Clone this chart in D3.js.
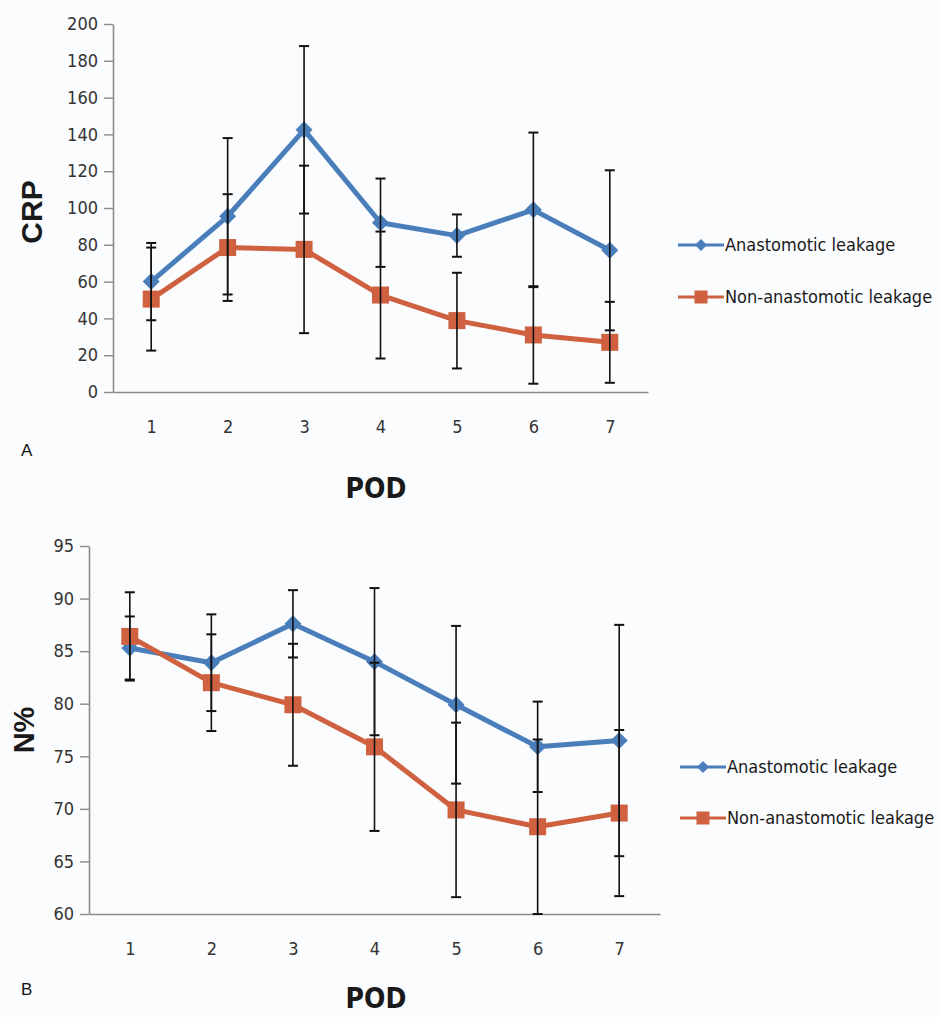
<!DOCTYPE html>
<html>
<head>
<meta charset="utf-8">
<script src="https://cdn.jsdelivr.net/npm/d3@7"></script>
<style>
  body { margin: 0; background: #fbfcfe; }
  svg { display: block; }
</style>
</head>
<body>
<div id="chart"></div>
<script>
// POD categories
const pod = [1, 2, 3, 4, 5, 6, 7];

// Panel A - CRP
const crpTicks = [0, 20, 40, 60, 80, 100, 120, 140, 160, 180, 200];
const crpLeak = [60, 95.5, 142.5, 92, 85, 99, 77];
const crpLeakErr = [21, 42.5, 45.5, 24, 11.5, 42, 43.5];
const crpNonLeak = [50.5, 78.5, 77.5, 52.7, 38.8, 31, 27];
const crpNonLeakErr = [28, 29, 45.5, 34.5, 26, 26.5, 22];

// Panel B - N%
const nTicks = [60, 65, 70, 75, 80, 85, 90, 95];
const nLeak = [85.3, 83.9, 87.6, 84, 79.9, 75.9, 76.5];
const nLeakErr = [3, 4.6, 3.2, 7, 7.5, 4.3, 11];
const nNonLeak = [86.4, 82, 79.9, 75.9, 69.9, 68.3, 69.6];
const nNonLeakErr = [4.2, 4.6, 5.8, 8, 8.3, 8.3, 7.9];

const seriesNames = ["Anastomotic leakage", "Non-anastomotic leakage"];

const blue = "#4a7ebb";
const orange = "#cf6140";
const tickFont = "'DejaVu Sans', sans-serif";

const svg = d3.select("#chart")
    .append("svg")
    .attr("width", 940)
    .attr("height", 1017);

function diamond(g, cx, cy, r, color) {
    g.append("path")
        .attr("d", `M${cx},${cy - r}L${cx + r},${cy}L${cx},${cy + r}L${cx - r},${cy}Z`)
        .attr("fill", color);
}
function square(g, cx, cy, s, color) {
    g.append("rect")
        .attr("x", cx - s / 2).attr("y", cy - s / 2)
        .attr("width", s).attr("height", s)
        .attr("fill", color);
}

function styleText(sel, size) {
    sel.style("font-family", tickFont)
        .style("font-stretch", "condensed")
        .style("font-size", size + "px");
}

function drawPanel(p) {
    const g = svg.append("g");

    const x = d3.scalePoint().domain(pod).range(p.xRange).padding(0.5);
    const y = d3.scaleLinear().domain(p.yDomain).range(p.yRange);

    // y axis
    const yAxis = g.append("g")
        .attr("transform", `translate(${p.xRange[0]},0)`)
        .call(d3.axisLeft(y).tickValues(p.ticks).tickSize(9).tickPadding(6).tickSizeOuter(0));
    yAxis.select(".domain").attr("stroke", "#8a8a8a").attr("stroke-width", 1.6);
    yAxis.selectAll(".tick line").attr("stroke", "#8a8a8a").attr("stroke-width", 1.4);
    yAxis.selectAll("text").attr("fill", "#333").call(styleText, 18);

    // x axis
    const xAxis = g.append("g")
        .attr("transform", `translate(0,${p.yRange[0]})`)
        .call(d3.axisBottom(x).tickSize(0).tickPadding(p.xPad).tickSizeOuter(0));
    xAxis.select(".domain").attr("stroke", "#8a8a8a").attr("stroke-width", 1.6);
    xAxis.selectAll("text").attr("fill", "#333").call(styleText, 18);

    const line = d3.line()
        .x((d, i) => x(pod[i]))
        .y(d => y(d));

    const series = [
        { vals: p.leak, err: p.leakErr, color: blue, marker: "diamond" },
        { vals: p.non, err: p.nonErr, color: orange, marker: "square" }
    ];

    series.forEach(s => {
        g.append("path")
            .datum(s.vals)
            .attr("d", line)
            .attr("fill", "none")
            .attr("stroke", s.color)
            .attr("stroke-width", 5)
            .attr("stroke-linejoin", "round");
        s.vals.forEach((v, i) => {
            if (s.marker === "diamond") diamond(g, x(pod[i]), y(v), 8.5, s.color);
            else square(g, x(pod[i]), y(v), 17, s.color);
        });
    });

    // error bars on top
    series.forEach(s => {
        s.vals.forEach((v, i) => {
            const cx = x(pod[i]);
            const y1 = y(v + s.err[i]), y2 = y(v - s.err[i]);
            g.append("line")
                .attr("x1", cx).attr("x2", cx).attr("y1", y1).attr("y2", y2)
                .attr("stroke", "#111").attr("stroke-width", 1.6);
            [y1, y2].forEach(yy => {
                g.append("line")
                    .attr("x1", cx - 5).attr("x2", cx + 5).attr("y1", yy).attr("y2", yy)
                    .attr("stroke", "#111").attr("stroke-width", 2);
            });
        });
    });

    // y label
    g.append("text")
        .attr("transform", `translate(${p.yLabelX},${p.yLabelY}) rotate(-90)`)
        .attr("text-anchor", "middle")
        .style("font-family", "'Liberation Sans', Arial, sans-serif")
        .style("font-weight", "bold")
        .style("font-size", p.yLabelSize + "px")
        .attr("fill", "#1a1a1a")
        .text(p.yLabel);

    // x label
    g.append("text")
        .attr("x", 376).attr("y", p.podY)
        .attr("text-anchor", "middle")
        .call(styleText, 28)
        .style("font-weight", "bold")
        .attr("fill", "#1a1a1a")
        .text("POD");

    // panel letter
    g.append("text")
        .attr("x", 21).attr("y", p.letterY)
        .style("font-family", "'Liberation Sans', Arial, sans-serif")
        .style("font-size", "17px")
        .attr("fill", "#111")
        .text(p.letter);

    // legend
    series.forEach((s, i) => {
        const ly = p.legendY + i * p.legendGap;
        g.append("line")
            .attr("x1", p.legendX).attr("x2", p.legendX + 46)
            .attr("y1", ly).attr("y2", ly)
            .attr("stroke", s.color).attr("stroke-width", 3);
        if (s.marker === "diamond") diamond(g, p.legendX + 23, ly, 6, s.color);
        else square(g, p.legendX + 23, ly, 13, s.color);
        g.append("text")
            .attr("x", p.legendX + 47).attr("y", ly)
            .attr("dy", "0.35em")
            .call(styleText, 18)
            .attr("fill", "#1a1a1a")
            .text(seriesNames[i]);
    });
}

drawPanel({
    xRange: [113, 648], yRange: [392, 24], yDomain: [0, 200], ticks: crpTicks,
    leak: crpLeak, leakErr: crpLeakErr, non: crpNonLeak, nonErr: crpNonLeakErr,
    yLabel: "CRP", yLabelX: 42, yLabelY: 212, yLabelSize: 30, xPad: 28,
    podY: 498, letter: "A", letterY: 456,
    legendX: 678, legendY: 245, legendGap: 52
});

drawPanel({
    xRange: [89, 660], yRange: [914, 546], yDomain: [60, 95], ticks: nTicks,
    leak: nLeak, leakErr: nLeakErr, non: nNonLeak, nonErr: nNonLeakErr,
    yLabel: "N%", yLabelX: 34, yLabelY: 730, yLabelSize: 29, xPad: 28,
    podY: 1008, letter: "B", letterY: 995,
    legendX: 680, legendY: 767, legendGap: 51
});
</script>
</body>
</html>
